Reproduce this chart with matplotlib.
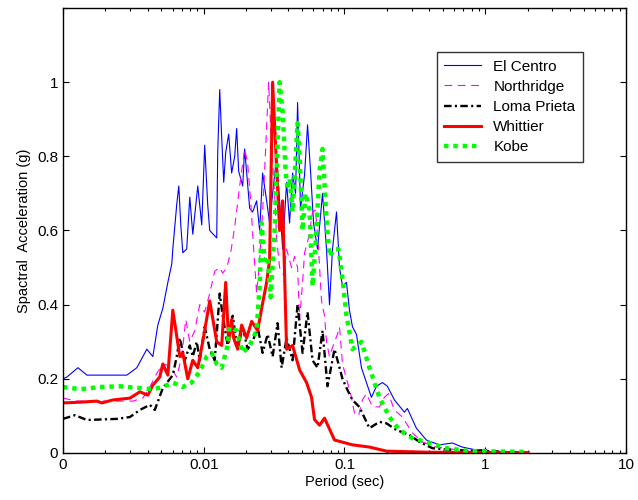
import matplotlib
matplotlib.use("Agg")
import matplotlib.pyplot as plt
from matplotlib.ticker import FixedLocator, FixedFormatter, LogLocator, NullFormatter

# periods (sec) and spectral accelerations (g)
t_elcentro = [0.001, 0.001067, 0.001278, 0.00148, 0.002154, 0.002844, 0.003348, 0.003943,
              0.00435, 0.00472, 0.00512, 0.00556, 0.00593, 0.00603, 0.00643, 0.00665,
              0.00687, 0.0071, 0.00757, 0.00796, 0.00836, 0.00907, 0.00968, 0.01016,
              0.01067, 0.01103, 0.01237, 0.01257, 0.01299, 0.01342, 0.01387, 0.01432,
              0.01504, 0.01579, 0.0166, 0.01714, 0.01771, 0.01891, 0.01953, 0.0212,
              0.02226, 0.02376, 0.02496, 0.0262, 0.02798, 0.02938, 0.03086, 0.03294,
              0.03459, 0.03634, 0.03879, 0.04073, 0.04278, 0.04493, 0.04643, 0.04874,
              0.05205, 0.05465, 0.0574, 0.06028, 0.06434, 0.06982, 0.0745, 0.07826,
              0.0822, 0.08776, 0.0922, 0.09679, 0.1033, 0.1085, 0.114, 0.1217, 0.132,
              0.1432, 0.1554, 0.1687, 0.186, 0.2018, 0.2263, 0.2665, 0.2798, 0.324,
              0.3816, 0.4719, 0.5834, 0.6869, 0.8635, 1.016, 1.067]
a_elcentro = [0.20, 0.205, 0.23, 0.21, 0.21, 0.21, 0.23, 0.28,
              0.26, 0.345, 0.39, 0.46, 0.51, 0.55, 0.67, 0.72,
              0.615, 0.54, 0.55, 0.69, 0.59, 0.72, 0.615, 0.83,
              0.67, 0.60, 0.58, 0.81, 0.98, 0.85, 0.73, 0.81,
              0.86, 0.755, 0.80, 0.875, 0.76, 0.72, 0.82, 0.66,
              0.65, 0.68, 0.60, 0.755, 0.68, 0.62, 0.70, 0.80,
              0.68, 0.55, 0.73, 0.62, 0.755, 0.70, 0.945, 0.66,
              0.75, 0.885, 0.76, 0.62, 0.55, 0.70, 0.55, 0.40,
              0.55, 0.65, 0.50, 0.45, 0.46, 0.385, 0.34, 0.32, 0.23,
              0.19, 0.15, 0.18, 0.19, 0.18, 0.143, 0.11, 0.12, 0.067,
              0.035, 0.022, 0.027, 0.016, 0.008, 0.01, 0.002]

t_northridge = [0.001, 0.001257, 0.00183, 0.003137, 0.003693, 0.00414, 0.004643, 0.00512,
                0.00574, 0.00643, 0.00698, 0.00745, 0.00796, 0.00864, 0.00937, 0.01016,
                0.01103, 0.01197, 0.01299, 0.01364, 0.01456, 0.01554, 0.0166, 0.018,
                0.01953, 0.02052, 0.02154, 0.02263, 0.02376, 0.02496, 0.0262, 0.02753,
                0.02891, 0.03036, 0.03188, 0.03294, 0.03459, 0.03693, 0.03879, 0.04209,
                0.04419, 0.04643, 0.04798, 0.05037, 0.05205, 0.05556, 0.05929, 0.06226,
                0.0654, 0.06869, 0.07214, 0.0745, 0.07826, 0.08494, 0.0892, 0.0922,
                0.09679, 0.1033, 0.1121, 0.1177, 0.1257, 0.1342, 0.1432, 0.1579, 0.1771,
                0.1921, 0.2051, 0.2263, 0.2578, 0.3036, 0.3575, 0.4493, 0.654, 1.016]
a_northridge = [0.148, 0.14, 0.14, 0.14, 0.148, 0.178, 0.215, 0.24,
                0.235, 0.205, 0.26, 0.36, 0.30, 0.33, 0.40, 0.38,
                0.43, 0.49, 0.50, 0.485, 0.50, 0.54, 0.61, 0.72,
                0.82, 0.78, 0.68, 0.55, 0.43, 0.52, 0.65, 0.82,
                1.0, 0.82, 0.70, 0.58, 0.50, 0.48, 0.55, 0.50,
                0.53, 0.50, 0.36, 0.46, 0.54, 0.58, 0.65, 0.655,
                0.55, 0.41, 0.37, 0.30, 0.26, 0.30, 0.32, 0.34,
                0.24, 0.20, 0.15, 0.108, 0.10, 0.143, 0.16, 0.125, 0.124,
                0.15, 0.16, 0.116, 0.097, 0.054, 0.03, 0.016, 0.008, 0.004]

t_loma = [0.001, 0.001216, 0.00148, 0.002415, 0.00299, 0.00352, 0.00414, 0.00449,
          0.00512, 0.00603, 0.00643, 0.00676, 0.00733, 0.00796, 0.00836, 0.00892,
          0.00937, 0.01016, 0.01103, 0.01197, 0.01299, 0.01364, 0.0148, 0.01606,
          0.01742, 0.01891, 0.02052, 0.02226, 0.02415, 0.0262, 0.02844, 0.03086,
          0.03348, 0.03575, 0.03879, 0.04278, 0.04643, 0.05037, 0.05465, 0.05929,
          0.06434, 0.06982, 0.07573, 0.08494, 0.09679, 0.105, 0.114, 0.1277, 0.1504,
          0.1771, 0.1987, 0.2338, 0.2891, 0.3403, 0.4209, 0.5834, 1.016, 1.257]
a_loma = [0.092, 0.102, 0.089, 0.092, 0.097, 0.116, 0.13, 0.116,
          0.175, 0.21, 0.26, 0.31, 0.25, 0.29, 0.26, 0.30,
          0.25, 0.34, 0.28, 0.25, 0.43, 0.37, 0.29, 0.37,
          0.28, 0.34, 0.28, 0.30, 0.34, 0.27, 0.32, 0.26,
          0.35, 0.23, 0.31, 0.25, 0.40, 0.27, 0.38, 0.25,
          0.23, 0.33, 0.18, 0.28, 0.20, 0.17, 0.143, 0.124, 0.067,
          0.084, 0.08, 0.062, 0.049, 0.03, 0.013, 0.008, 0.005, 0.004]

t_whittier = [0.001, 0.00132, 0.00174, 0.00189, 0.00226, 0.00299, 0.00352, 0.00401,
              0.00435, 0.00487, 0.00512, 0.00556, 0.00603, 0.00676, 0.0071, 0.0077,
              0.00836, 0.00907, 0.00984, 0.01103, 0.01237, 0.01342, 0.01432, 0.01504,
              0.01579, 0.01632, 0.01742, 0.0186, 0.02018, 0.0219, 0.02415, 0.02578,
              0.02798, 0.02938, 0.03086, 0.03459, 0.03634, 0.03879, 0.04278, 0.04798,
              0.05377, 0.05834, 0.06126, 0.06648, 0.07214, 0.08494, 0.114, 0.1504,
              0.1987, 0.4007, 2.018]
a_whittier = [0.135, 0.137, 0.14, 0.135, 0.143, 0.148, 0.165, 0.156,
              0.183, 0.205, 0.24, 0.21, 0.385, 0.26, 0.27, 0.20,
              0.25, 0.23, 0.30, 0.41, 0.30, 0.29, 0.46, 0.30,
              0.36, 0.31, 0.28, 0.345, 0.31, 0.355, 0.33, 0.39,
              0.46, 0.52, 1.0, 0.60, 0.68, 0.28, 0.29, 0.224,
              0.19, 0.15, 0.09, 0.075, 0.094, 0.035, 0.022, 0.016,
              0.005, 0.002, 0.001]

t_kobe = [0.001, 0.00132, 0.00183, 0.00254, 0.00352, 0.00435, 0.00512, 0.00603,
          0.0071, 0.00822, 0.00937, 0.0105, 0.0114, 0.01237, 0.01342, 0.01456,
          0.01529, 0.01714, 0.01891, 0.0212, 0.02376, 0.02496, 0.02578, 0.02708,
          0.02844, 0.02987, 0.03188, 0.03459, 0.03634, 0.03816, 0.03943, 0.04073,
          0.04278, 0.04643, 0.04798, 0.05037, 0.05289, 0.05646, 0.05929, 0.06226,
          0.06648, 0.06982, 0.0745, 0.07826, 0.08494, 0.09067, 0.09679, 0.1033,
          0.114, 0.132, 0.1504, 0.1771, 0.2085, 0.2455, 0.3036, 0.4007, 0.5289,
          0.77, 2.018]
a_kobe = [0.178, 0.172, 0.178, 0.18, 0.175, 0.172, 0.178, 0.19,
          0.178, 0.19, 0.22, 0.26, 0.27, 0.24, 0.23, 0.28,
          0.34, 0.33, 0.27, 0.29, 0.33, 0.45, 0.62, 0.52,
          0.53, 0.42, 0.60, 1.0, 0.92, 0.76, 0.71, 0.74,
          0.65, 0.89, 0.80, 0.60, 0.70, 0.655, 0.45, 0.56,
          0.76, 0.82, 0.63, 0.53, 0.55, 0.55, 0.47, 0.37,
          0.28, 0.30, 0.23, 0.15, 0.097, 0.062, 0.04, 0.027, 0.013,
          0.005, 0.003]

x_ticks = [0.001, 0.01, 0.1, 1, 10]
x_tick_labels = ["0", "0.01", "0.1", "1", "10"]
y_ticks = [0, 0.2, 0.4, 0.6, 0.8, 1.0, 1.2]
y_tick_labels = ["0", "0.2", "0.4", "0.6", "0.8", "1", ""]

plt.rcParams["font.family"] = ["Liberation Sans", "DejaVu Sans"]

fig = plt.figure(figsize=(6.38, 5.0), dpi=100)
ax = fig.add_axes([0.0987, 0.094, 0.8825, 0.89])

ax.plot(t_elcentro, a_elcentro, color="#0000ff", lw=0.8, label="El Centro")
ax.plot(t_northridge, a_northridge, color="#ff00ff", lw=0.8, dashes=(7, 5),
        label="Northridge")
ax.plot(t_loma, a_loma, color="black", lw=1.7, dashes=(3.2, 1.4, 0.9, 1.4),
        label="Loma Prieta")
ax.plot(t_whittier, a_whittier, color="#ff0000", lw=2.2, label="Whittier")
ax.plot(t_kobe, a_kobe, color="#00ff00", lw=3.2, dashes=(1, 1.1),
        dash_capstyle="butt", label="Kobe")

ax.set_xscale("log")
ax.set_xlim(0.001, 10)
ax.set_ylim(0, 1.2)
ax.xaxis.set_major_locator(FixedLocator(x_ticks))
ax.xaxis.set_major_formatter(FixedFormatter(x_tick_labels))
ax.xaxis.set_minor_locator(LogLocator(base=10, subs=range(2, 10)))
ax.xaxis.set_minor_formatter(NullFormatter())
ax.yaxis.set_major_locator(FixedLocator(y_ticks))
ax.yaxis.set_major_formatter(FixedFormatter(y_tick_labels))

ax.tick_params(which="both", direction="in", top=True, right=True,
               labelsize=11, width=0.8)
ax.tick_params(which="major", length=4)
ax.tick_params(which="minor", length=2.5)
for s in ax.spines.values():
    s.set_linewidth(1.0)

ax.set_xlabel("Period (sec)", fontsize=10.5, labelpad=2)
ax.set_ylabel("Spactral  Acceleration (g)", fontsize=10.5, labelpad=4)

leg = ax.legend(loc="upper left", bbox_to_anchor=(0.664, 0.901), fontsize=11,
                frameon=True, fancybox=False, edgecolor="black",
                handlelength=2.4, handletextpad=0.8, labelspacing=0.4,
                borderpad=0.5, borderaxespad=0)
leg.get_frame().set_linewidth(1.0)

fig.savefig("out.png", dpi=100)
